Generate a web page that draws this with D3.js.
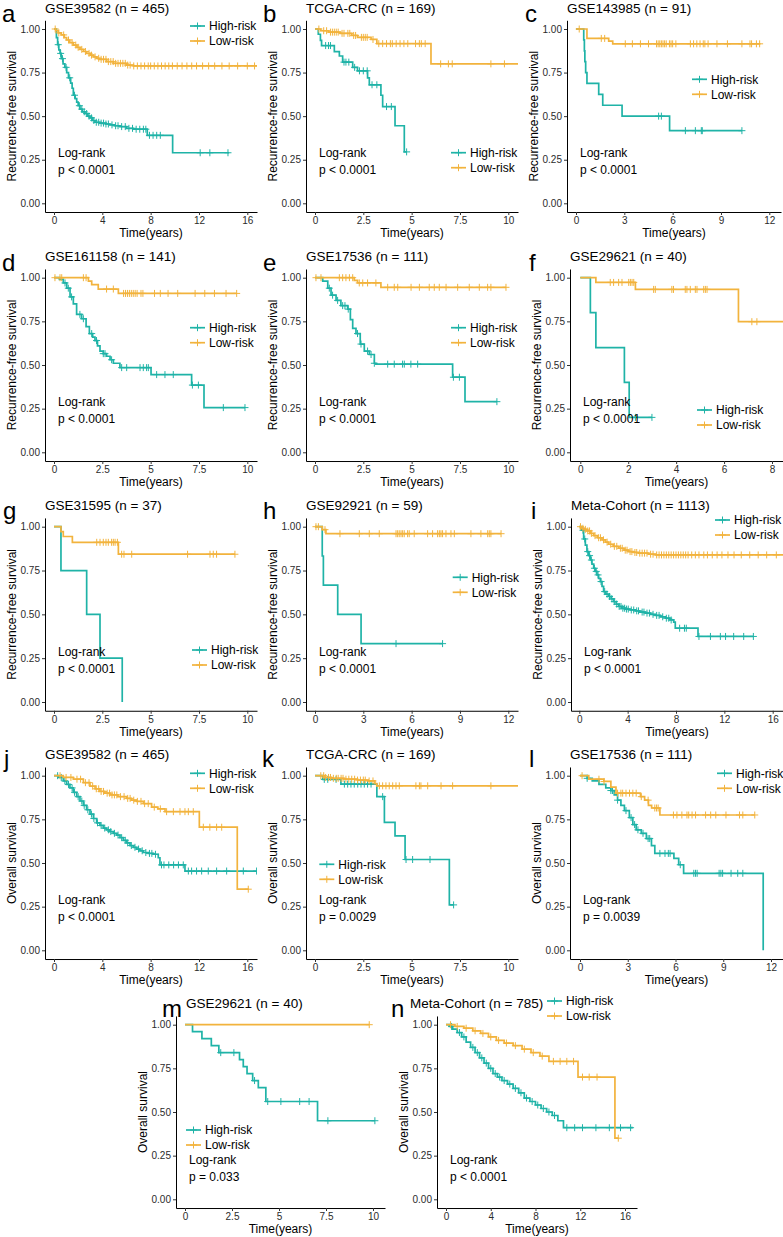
<!DOCTYPE html>
<html><head><meta charset="utf-8">
<script src="https://cdn.jsdelivr.net/npm/d3@7"></script>
<style>
body{margin:0;background:#fff}
svg{display:block}
text{font-family:"Liberation Sans",Arial,Helvetica,sans-serif}
</style>
</head><body>
<svg id="c" width="783" height="1237"></svg>
<script>
// ---------------- DATA ----------------
const yTicks = [0, 0.25, 0.5, 0.75, 1];
const ticks16 = [0, 4, 8, 12, 16];
const ticks10 = [0, 2.5, 5, 7.5, 10];
const ticks12 = [0, 3, 6, 9, 12];
const ticks8 = [0, 2, 4, 6, 8];
const groups = ["High-risk", "Low-risk"];

// a
const aHighT = [0,0.2,0.3,0.4,0.5,0.6,0.75,0.9,1.05,1.2,1.38,1.5,1.6,1.75,1.88,2.0,2.15,2.35,2.57,2.8,2.98,3.2,3.39,3.8,4.3,4.63,5.0,5.46,6.01,6.57,7.72,9.82];
const aHighS = [1,0.95,0.91,0.88,0.86,0.83,0.80,0.78,0.75,0.72,0.69,0.66,0.62,0.60,0.58,0.56,0.54,0.525,0.515,0.50,0.49,0.475,0.465,0.46,0.455,0.45,0.445,0.44,0.43,0.425,0.39,0.29];
const aHighC = [0.35,0.55,0.7,1.0,1.3,1.7,2.1,2.3,2.5,2.7,2.9,3.1,3.3,3.5,3.7,3.9,4.1,4.3,4.5,4.8,5.1,5.3,5.6,5.9,6.2,6.5,6.8,7.1,7.4,7.6,7.9,8.2,8.5,8.8,12.1,12.9,14.4];
const aHighEnd = 14.5;
const aLowT = [0,0.15,0.35,0.6,0.85,1.05,1.3,1.6,1.9,2.15,2.45,2.7,3.0,3.26,3.55,3.8,4.36,4.91,6.0,6.57];
const aLowS = [1,0.99,0.978,0.966,0.95,0.937,0.922,0.908,0.895,0.883,0.871,0.86,0.85,0.84,0.832,0.826,0.813,0.803,0.793,0.788];
const aLowC = [0.1,0.4,0.8,1.2,1.5,1.8,2.0,2.3,2.6,2.9,3.1,3.4,3.7,3.9,4.1,4.3,4.5,4.7,4.9,5.1,5.3,5.5,5.7,5.9,6.1,6.3,6.6,6.9,7.2,7.5,7.8,8.0,8.3,8.6,8.9,9.2,9.5,9.8,10.2,10.6,11.0,11.4,11.8,12.3,12.8,13.3,13.9,14.5,15.2,16.0,16.6];
const aLowEnd = 17;

// b
const bHighT = [0,0.17,0.28,0.34,1.0,1.26,1.43,1.95,2.2,2.72,2.81,3.41,3.5,4.14,4.62];
const bHighS = [1,0.97,0.935,0.905,0.87,0.845,0.81,0.78,0.76,0.72,0.68,0.62,0.555,0.445,0.295];
const bHighC = [0.55,0.7,0.8,1.5,1.6,1.75,2.05,2.3,2.5,2.7,2.95,3.2,3.7,3.95,4.74];
const bHighEnd = 4.74;
const bLowT = [0,0.3,0.7,1.3,1.9,2.2,2.9,3.2,6.0];
const bLowS = [1,0.99,0.982,0.975,0.963,0.952,0.94,0.916,0.80];
const bLowC = [0.2,0.45,0.6,0.8,0.9,1.0,1.1,1.2,1.4,1.5,1.7,1.8,2.0,2.1,2.4,2.5,2.6,2.7,3.0,3.3,3.5,3.7,3.9,4.0,4.2,4.4,4.6,4.8,5.2,5.4,5.5,5.7,6.5,6.9,7.1,9.1,9.8];
const bLowEnd = 10.6;

// c
const cHighT = [0,0.48,0.52,0.55,0.6,0.68,1.41,1.66,2.86,5.81];
const cHighS = [1,0.9375,0.875,0.8125,0.75,0.6875,0.625,0.5625,0.5,0.4167];
const cHighC = [5.13,5.3,6.79,7.41,7.78,7.84,10.3];
const cHighEnd = 10.3;
const cLowT = [0,0.68,2.03,2.28];
const cLowS = [1,0.946,0.93,0.915];
const cLowC = [0.2,1.57,1.78,3.06,3.5,4.0,4.5,5.0,5.1,5.2,5.3,5.4,5.5,5.6,5.8,5.9,6.0,6.2,7.1,7.3,7.5,7.7,7.9,8.0,8.2,8.75,9.4,10.3,10.8,10.9,11.2,11.4];
const cLowEnd = 11.45;

// d
const dHighT = [0,0.28,0.48,0.66,0.83,1.0,1.17,1.43,1.66,1.83,2.0,2.12,2.25,2.38,2.55,2.72,2.9,3.07,3.41,5.02,7.12,7.76];
const dHighS = [1,0.99,0.97,0.94,0.89,0.85,0.79,0.765,0.72,0.68,0.66,0.64,0.61,0.58,0.565,0.55,0.53,0.51,0.485,0.445,0.385,0.256];
const dHighC = [0.57,0.74,0.91,1.34,1.52,1.95,2.2,2.55,2.64,2.98,3.5,3.76,4.45,4.62,4.79,4.88,5.31,5.74,6.17,7.16,7.47,8.76,9.88];
const dHighEnd = 9.88;
const dLowT = [0,1.78,1.95,2.29,3.33];
const dLowS = [1,0.98,0.96,0.935,0.91];
const dLowC = [0.05,0.31,0.4,1.52,1.66,2.72,3.07,3.6,3.7,3.8,3.9,4.0,4.1,4.2,4.3,4.5,4.6,5.2,5.5,5.9,6.4,7.3,7.8,8.3,8.9,9.45];
const dLowEnd = 9.45;

// e
const eHighT = [0,0.4,0.66,0.83,1.09,1.34,1.69,1.83,1.95,2.12,2.34,2.55,2.81,3.07,3.15,7.12,7.76];
const eHighS = [1,0.98,0.94,0.9,0.87,0.84,0.82,0.76,0.71,0.68,0.62,0.58,0.56,0.51,0.505,0.43,0.29];
const eHighC = [0.74,0.91,1.17,1.43,1.55,1.72,2.2,2.38,2.72,2.9,3.07,3.76,4.1,4.53,4.62,4.96,5.31,7.16,7.47,9.41];
const eHighEnd = 9.41;
const eLowT = [0,2.03,2.2,3.41];
const eLowS = [1,0.985,0.97,0.945];
const eLowC = [0.05,0.31,1.26,1.43,1.6,1.78,1.95,2.29,2.47,2.72,3.15,3.76,4.1,4.28,4.97,5.4,5.91,6.17,6.43,6.78,7.38,7.98,8.5,8.93,9.1,9.88];
const eLowEnd = 9.88;

// f
const fHighT = [0,0.42,0.65,1.84,2.04];
const fHighS = [1,0.8,0.6,0.4,0.2];
const fHighC = [2.3,2.99];
const fHighEnd = 2.99;
const fLowT = [0,0.65,2.3,6.6];
const fLowS = [1,0.973,0.933,0.748];
const fLowC = [1.25,1.39,1.6,1.74,2.02,2.09,2.16,2.23,3.06,3.13,3.82,3.89,4.38,4.45,4.59,4.8,4.87,5.15,5.22,5.29,7.16,7.37];
const fLowEnd = 9;

// g
const gHighT = [0,0.36,1.69,2.38,3.53];
const gHighS = [1,0.75,0.5,0.25,0];
const gHighC = [];
const gHighEnd = 3.53;
const gLowT = [0,0.36,0.48,0.95,3.33];
const gLowS = [1,0.972,0.944,0.911,0.843];
const gLowC = [2.21,2.38,2.55,2.69,2.81,2.98,3.07,3.16,3.28,3.5,3.62,4.02,6.91,8.07,8.24,8.41,9.36];
const gLowEnd = 9.36;

// h
const hHighT = [0,0.45,0.52,1.41,2.86];
const hHighS = [1,0.833,0.667,0.5,0.333];
const hHighC = [5.03,7.92];
const hHighEnd = 7.92;
const hLowT = [0,0.45,0.68];
const hLowS = [1,0.983,0.96];
const hLowC = [0.06,0.21,0.62,1.55,2.75,3.37,3.99,5.03,5.13,5.23,5.34,5.44,5.54,5.75,5.85,6.16,6.99,7.3,7.61,7.72,7.82,7.92,8.13,8.44,8.65,9.68,10.3,10.72,10.82,10.92,11.55];
const hLowEnd = 11.55;

// i
const iHighT = [0,0.17,0.36,0.5,0.63,0.77,0.91,1.05,1.19,1.32,1.46,1.6,1.74,1.88,2.01,2.2,2.43,2.63,2.84,3.05,3.26,3.5,3.81,4.2,4.63,5.0,5.46,5.9,6.29,6.7,7.12,7.5,7.81,7.94,9.82];
const iHighS = [1,0.98,0.93,0.895,0.858,0.835,0.81,0.787,0.763,0.745,0.725,0.705,0.687,0.66,0.63,0.615,0.602,0.588,0.573,0.558,0.545,0.535,0.53,0.525,0.52,0.513,0.507,0.5,0.494,0.486,0.478,0.468,0.456,0.421,0.374];
const iHighC = [0.3,0.45,0.7,0.85,1.0,1.25,1.4,1.55,1.8,2.1,2.3,2.5,2.7,2.9,3.1,3.3,3.45,3.6,3.75,3.9,4.05,4.3,4.5,4.75,4.9,5.2,5.35,5.6,5.8,6.1,6.4,6.6,6.9,7.2,7.4,7.6,8.3,8.7,8.85,9.9,10.85,11.67,12.1,12.77,13.6,14.4];
const iHighEnd = 14.4;
const iLowT = [0,0.22,0.4,0.63,0.9,1.19,1.5,1.88,2.15,2.43,2.8,3.26,3.7,4.08,4.5,4.91,5.74,6.29];
const iLowS = [1,0.991,0.985,0.976,0.962,0.949,0.937,0.925,0.912,0.9,0.888,0.877,0.866,0.858,0.853,0.849,0.843,0.839];
const iLowC = [0.1,0.3,0.5,0.7,0.85,1.0,1.3,1.6,1.75,2.0,2.3,2.6,2.9,3.1,3.4,3.55,3.8,3.95,4.2,4.35,4.6,4.75,5.0,5.2,5.4,5.6,5.9,6.1,6.4,6.6,6.8,7.0,7.2,7.4,7.6,7.8,8.0,8.2,8.4,8.6,8.8,9.0,9.3,9.6,9.9,10.3,10.6,11.0,11.4,11.8,12.3,12.8,13.4,14.1,14.8,15.5,16.3];
const iLowEnd = 17;

// j
const jHighT = [0,0.36,0.77,1.05,1.32,1.6,1.88,2.15,2.43,2.7,2.98,3.26,3.53,3.8,4.08,4.35,4.63,4.91,5.19,5.46,5.74,6.01,6.29,6.57,6.84,7.12,7.39,7.8,8.22,8.63,8.77,10.84];
const jHighS = [1,0.99,0.97,0.95,0.93,0.905,0.88,0.855,0.83,0.805,0.78,0.755,0.73,0.715,0.7,0.69,0.68,0.67,0.66,0.645,0.63,0.615,0.6,0.59,0.58,0.57,0.56,0.555,0.55,0.53,0.489,0.454];
const jHighC = [0.3,0.6,0.9,1.2,1.5,1.7,2.0,2.3,2.5,2.8,3.1,3.3,3.6,3.9,4.2,4.5,4.7,5.0,5.3,5.6,5.9,6.1,6.4,6.7,7.0,7.3,7.6,7.9,8.1,8.4,8.9,9.1,9.5,9.9,10.3,10.7,11.12,11.39,11.8,12.22,12.77,13.46,14.29,15.67,16.77];
const jHighEnd = 17;
const jLowT = [0,0.77,1.6,2.43,2.98,3.4,3.8,4.2,4.63,5.3,6.01,6.4,6.84,7.4,8.08,8.6,9.19,12.03,15.17];
const jLowS = [1,0.99,0.98,0.96,0.94,0.925,0.91,0.9,0.89,0.88,0.87,0.86,0.853,0.84,0.82,0.81,0.794,0.705,0.35];
const jLowC = [0.5,1.0,1.4,1.9,2.2,2.6,2.9,3.2,3.5,3.7,3.9,4.1,4.4,4.6,4.8,5.0,5.2,5.5,5.8,6.1,6.3,6.6,6.9,7.2,7.5,7.8,8.3,8.8,9.32,9.88,10.43,10.84,11.12,11.53,12.36,12.9,13.46,13.88,16.08];
const jLowEnd = 16.1;

// k
const kHighT = [0,0.4,1.34,3.2,3.59,4.14,4.66,6.95];
const kHighS = [1,0.979,0.952,0.88,0.733,0.655,0.52,0.26];
const kHighC = [0.48,0.66,1.09,1.52,1.69,1.86,2.03,2.21,2.38,2.55,2.72,2.9,3.5,4.71,5.05,5.95,7.17];
const kHighEnd = 7.17;
const kLowT = [0,0.5,0.85,1.5,2.2,2.75,3.1,3.2];
const kLowS = [1,0.99,0.985,0.98,0.975,0.97,0.955,0.942];
const kLowC = [0.3,0.45,0.55,0.7,0.8,0.95,1.1,1.2,1.35,1.45,1.6,1.75,1.9,2.05,2.2,2.35,2.5,2.6,2.8,3.0,3.33,3.5,3.67,3.84,4.02,4.19,4.36,5.22,5.4,5.48,5.83,6.52,7.12,9.1];
const kLowEnd = 10.6;

// l
const lHighT = [0,0.45,0.77,1.19,1.62,1.94,2.15,2.36,2.57,2.79,3.1,3.32,3.53,3.85,4.17,4.49,4.7,5.9,6.2,6.51,11.51];
const lHighS = [1,0.985,0.97,0.95,0.93,0.915,0.89,0.86,0.83,0.8,0.76,0.72,0.69,0.67,0.64,0.6,0.555,0.527,0.49,0.441,0];
const lHighC = [0.45,1.94,2.04,2.36,2.89,3.21,3.43,3.64,3.96,4.28,4.38,5.02,5.34,5.55,5.66,6.3,7.15,7.26,7.36,8.74,8.85,8.96,9.49,9.91,10.23];
const lHighEnd = 11.51;
const lLowT = [0,0.55,1.5,1.94,2.26,3.8,4.06,4.3,4.5,5.02];
const lLowS = [1,0.98,0.967,0.935,0.9,0.88,0.86,0.83,0.815,0.775];
const lLowC = [0.13,1.19,1.51,2.36,2.57,2.68,2.89,3.11,3.32,3.53,3.85,4.28,4.7,4.81,4.91,5.87,6.09,6.4,6.72,6.83,7.04,7.26,7.89,8.21,8.53,9.17,10.02,10.23,10.98];
const lLowEnd = 10.98;

// m
const mHighT = [0,0.4,0.9,1.4,1.8,2.9,3.1,3.3,3.6,3.9,4.3,7.05];
const mHighS = [1,0.96,0.92,0.88,0.84,0.80,0.76,0.72,0.68,0.64,0.56,0.45];
const mHighC = [1.9,2.6,3.7,4.4,5.1,6.1,6.6,7.6,10.1];
const mHighEnd = 10.1;
const mLowT = [0];
const mLowS = [1];
const mLowC = [9.8];
const mLowEnd = 9.8;

// n
const nHighT = [0,0.3,0.6,1.0,1.4,1.8,2.2,2.6,3.0,3.4,3.8,4.2,4.6,5.0,5.5,6.0,6.5,7.0,7.5,8.0,8.5,9.0,9.5,10.0,10.5];
const nHighS = [1,0.99,0.975,0.955,0.93,0.9,0.87,0.84,0.81,0.78,0.75,0.72,0.7,0.68,0.66,0.635,0.61,0.58,0.56,0.54,0.52,0.5,0.48,0.45,0.41];
const nHighC = [0.5,1.2,1.6,2.4,2.8,3.2,3.6,4.0,4.4,4.8,5.2,5.7,6.2,6.7,7.2,7.7,8.2,8.7,9.2,9.7,10.8,11.5,12.2,13.4,14.6,15.6,16.5];
const nHighEnd = 16.7;
const nLowT = [0,0.8,1.6,2.4,3.1,3.8,4.5,5.2,6.0,6.8,7.6,8.4,9.2,11.8,15.1];
const nLowS = [1,0.99,0.98,0.965,0.95,0.93,0.91,0.895,0.88,0.86,0.84,0.82,0.79,0.70,0.35];
const nLowC = [0.4,1.0,1.8,2.6,3.3,4.0,4.7,5.4,6.2,7.0,7.8,8.6,9.6,10.2,10.8,11.4,12.2,12.8,13.5,15.4];
const nLowEnd = 15.4;

// ---------------- LAYOUT ----------------
const TEAL = "#1FB3A7", ORANGE = "#F2B33D";
const RFS = "Recurrence-free survival", OS = "Overall survival";
const P4 = "p < 0.0001";
const panels = [
 {L:"a", title:"GSE39582 (n = 465)", ylab:RFS, ax:45, right:257, x0:54, tMax:16, tMaxPx:247.3, ticks:ticks16, y1:29, y0:203.3, lx:2, ly:22, leg:[190,26], p:P4, hi:[aHighT,aHighS,aHighC,aHighEnd], lo:[aLowT,aLowS,aLowC,aLowEnd]},
 {L:"b", title:"TCGA-CRC (n = 169)", ylab:RFS, ax:306, right:518, x0:315, tMax:10, tMaxPx:508.3, ticks:ticks10, y1:29, y0:203.3, lx:263, ly:22, leg:[451,152.7], p:P4, hi:[bHighT,bHighS,bHighC,bHighEnd], lo:[bLowT,bLowS,bLowC,bLowEnd]},
 {L:"c", title:"GSE143985 (n = 91)", ylab:RFS, ax:567, right:781, x0:576, tMax:12, tMaxPx:769.3, ticks:ticks12, y1:29, y0:203.3, lx:525, ly:22, leg:[692,79.3], p:P4, hi:[cHighT,cHighS,cHighC,cHighEnd], lo:[cLowT,cLowS,cLowC,cLowEnd]},
 {L:"d", title:"GSE161158 (n = 141)", ylab:RFS, ax:45, right:257, x0:54, tMax:10, tMaxPx:247.3, ticks:ticks10, y1:277.7, y0:452.3, lx:2, ly:271, leg:[190,327.7], p:P4, hi:[dHighT,dHighS,dHighC,dHighEnd], lo:[dLowT,dLowS,dLowC,dLowEnd]},
 {L:"e", title:"GSE17536 (n = 111)", ylab:RFS, ax:306, right:518, x0:315, tMax:10, tMaxPx:508.3, ticks:ticks10, y1:277.7, y0:452.3, lx:263, ly:271, leg:[451,327.7], p:P4, hi:[eHighT,eHighS,eHighC,eHighEnd], lo:[eLowT,eLowS,eLowC,eLowEnd]},
 {L:"f", title:"GSE29621 (n = 40)", ylab:RFS, ax:570, right:783, x0:580.3, tMax:8, tMaxPx:772, ticks:ticks8, y1:277.7, y0:452.3, lx:529, ly:271, leg:[697,410], p:P4, hi:[fHighT,fHighS,fHighC,fHighEnd], lo:[fLowT,fLowS,fLowC,fLowEnd]},
 {L:"g", title:"GSE31595 (n = 37)", ylab:RFS, ax:45, right:257, x0:54, tMax:10, tMaxPx:247.3, ticks:ticks10, y1:526.7, y0:702, lx:3, ly:519, leg:[192,650], p:P4, hi:[gHighT,gHighS,gHighC,gHighEnd], lo:[gLowT,gLowS,gLowC,gLowEnd]},
 {L:"h", title:"GSE92921 (n = 59)", ylab:RFS, ax:306, right:518, x0:315, tMax:12, tMaxPx:508.3, ticks:ticks12, y1:526.7, y0:702, lx:263, ly:519, leg:[452.7,577.3], p:P4, hi:[hHighT,hHighS,hHighC,hHighEnd], lo:[hLowT,hLowS,hLowC,hLowEnd]},
 {L:"i", title:"Meta-Cohort (n = 1113)", ylab:RFS, ax:571, right:783, x0:579.3, tMax:16, tMaxPx:772.7, ticks:ticks16, y1:526.7, y0:702, lx:531, ly:519, leg:[715,520], p:P4, hi:[iHighT,iHighS,iHighC,iHighEnd], lo:[iLowT,iLowS,iLowC,iLowEnd]},
 {L:"j", title:"GSE39582 (n = 465)", ylab:OS, ax:45, right:257, x0:54, tMax:16, tMaxPx:247.3, ticks:ticks16, y1:775.7, y0:950.3, lx:4, ly:767, leg:[190,773.3], p:P4, hi:[jHighT,jHighS,jHighC,jHighEnd], lo:[jLowT,jLowS,jLowC,jLowEnd]},
 {L:"k", title:"TCGA-CRC (n = 169)", ylab:OS, ax:306, right:518, x0:315, tMax:10, tMaxPx:508.3, ticks:ticks10, y1:775.7, y0:950.3, lx:262, ly:767, leg:[319.3,864.3], p:"p = 0.0029", hi:[kHighT,kHighS,kHighC,kHighEnd], lo:[kLowT,kLowS,kLowC,kLowEnd]},
 {L:"l", title:"GSE17536 (n = 111)", ylab:OS, ax:570, right:783, x0:580, tMax:12, tMaxPx:771, ticks:ticks12, y1:775.7, y0:950.3, lx:529, ly:767, leg:[717,773.3], p:"p = 0.0039", hi:[lHighT,lHighS,lHighC,lHighEnd], lo:[lLowT,lLowS,lLowC,lLowEnd]},
 {L:"m", title:"GSE29621 (n = 40)", ylab:OS, ax:176, right:385, x0:185, tMax:10, tMaxPx:373, ticks:ticks10, y1:1024.7, y0:1199.3, tx:186, lx:162, ly:1016.7, leg:[186,1130], p:"p = 0.033", lr:0.2, hi:[mHighT,mHighS,mHighC,mHighEnd], lo:[mLowT,mLowS,mLowC,mLowEnd]},
 {L:"n", title:"Meta-Cohort (n = 785)", ylab:OS, ax:437, right:637, x0:446, tMax:16, tMaxPx:625, ticks:ticks16, y1:1024.7, y0:1199.3, tx:410, lx:391, ly:1016.7, leg:[547,1001], p:P4, lr:0.2, hi:[nHighT,nHighS,nHighC,nHighEnd], lo:[nLowT,nLowS,nLowC,nLowEnd]}
];

// ---------------- DRAW ----------------
const svg = d3.select("#c");
const FONT = '"Liberation Sans",Arial,Helvetica,sans-serif';
const plus = "M-3.5,0H3.5M0,-3.5V3.5";

function stepAt(T, S, t) {
  const i = d3.bisectRight(T, t) - 1;
  return S[Math.max(0, i)];
}

function drawPanel(p) {
  const base = d3.scaleLinear().domain([0, p.tMax]).range([p.x0, p.tMaxPx]);
  const x = d3.scaleLinear().domain([base.invert(p.ax), base.invert(p.right)]).range([p.ax, p.right]);
  const yb = d3.scaleLinear().domain([0, 1]).range([p.y0, p.y1]);
  const y = d3.scaleLinear().domain([-0.05, 1.05]).range([yb(-0.05), yb(1.05)]);
  const g = svg.append("g");
  const cid = "clip-" + p.L;
  svg.append("clipPath").attr("id", cid).append("rect")
    .attr("x", p.ax).attr("y", y(1.05) - 4).attr("width", p.right - p.ax).attr("height", y(-0.05) - y(1.05) + 4);

  // axes
  const ya = g.append("g").attr("transform", `translate(${p.ax},0)`)
    .call(d3.axisLeft(y).tickValues(yTicks).tickFormat(d3.format(".2f")).tickSize(3).tickSizeOuter(0).tickPadding(2));
  const xa = g.append("g").attr("transform", `translate(0,${y(-0.05)})`)
    .call(d3.axisBottom(x).tickValues(p.ticks).tickFormat(d => String(d)).tickSize(3).tickSizeOuter(0).tickPadding(2));
  [ya, xa].forEach(a => {
    a.select(".domain").attr("stroke", "#000").attr("stroke-width", 1);
    a.selectAll(".tick line").attr("stroke", "#333");
    a.selectAll(".tick text").attr("fill", "#2b2b2b").style("font-size", "10px").style("font-family", FONT);
  });

  // axis titles
  g.append("text").attr("x", (p.ax + p.right) / 2).attr("y", y(-0.05) + 25)
    .attr("text-anchor", "middle").style("font-size", "12px").attr("fill", "#000").text("Time(years)");
  const cy = (y(1.05) + y(-0.05)) / 2;
  g.append("text").attr("transform", `translate(${p.ax - 29},${cy}) rotate(-90)`)
    .attr("text-anchor", "middle").style("font-size", "12px").attr("fill", "#000").text(p.ylab);

  // title + letter
  const tx = p.tx !== undefined ? p.tx : p.ax;
  g.append("text").attr("x", tx).attr("y", p.y1 - 16.5).style("font-size", "13.5px").attr("fill", "#000").text(p.title);
  g.append("text").attr("x", p.lx).attr("y", p.ly).style("font-size", "24px").attr("fill", "#000").text(p.L);

  // curves
  const line = d3.line().x(d => x(d[0])).y(d => y(d[1])).curve(d3.curveStepAfter);
  const plot = g.append("g").attr("clip-path", `url(#${cid})`);
  [[p.hi, TEAL], [p.lo, ORANGE]].forEach(([ser, col]) => {
    const [T, S, C, end] = ser;
    const pts = T.map((t, i) => [t, S[i]]);
    pts.push([end, S[S.length - 1]]);
    plot.append("path").attr("d", line(pts)).attr("fill", "none").attr("stroke", col).attr("stroke-width", 1.7);
    plot.selectAll(null).data(C).join("path")
      .attr("d", plus)
      .attr("transform", c => `translate(${x(c)},${y(stepAt(T, S, c))})`)
      .attr("stroke", col).attr("stroke-width", 1).attr("fill", "none");
  });

  // Log-rank text
  const lrY = yb(p.lr !== undefined ? p.lr : 0.265);
  g.append("text").attr("x", p.ax + 13).attr("y", lrY).style("font-size", "12px").attr("fill", "#000").text("Log-rank");
  g.append("text").attr("x", p.ax + 13).attr("y", lrY + 17).style("font-size", "12px").attr("fill", "#000").text(p.p);

  // legend
  const leg = g.append("g");
  groups.forEach((name, i) => {
    const col = i === 0 ? TEAL : ORANGE;
    const ly = p.leg[1] + i * 15;
    leg.append("line").attr("x1", p.leg[0]).attr("x2", p.leg[0] + 15).attr("y1", ly).attr("y2", ly)
      .attr("stroke", col).attr("stroke-width", 1.7);
    leg.append("path").attr("d", plus).attr("transform", `translate(${p.leg[0] + 7.5},${ly})`)
      .attr("stroke", col).attr("stroke-width", 1);
    leg.append("text").attr("x", p.leg[0] + 19).attr("y", ly).attr("dy", "0.35em")
      .style("font-size", "12px").attr("fill", "#000").text(name);
  });
}

panels.forEach(drawPanel);
</script>
</body></html>
